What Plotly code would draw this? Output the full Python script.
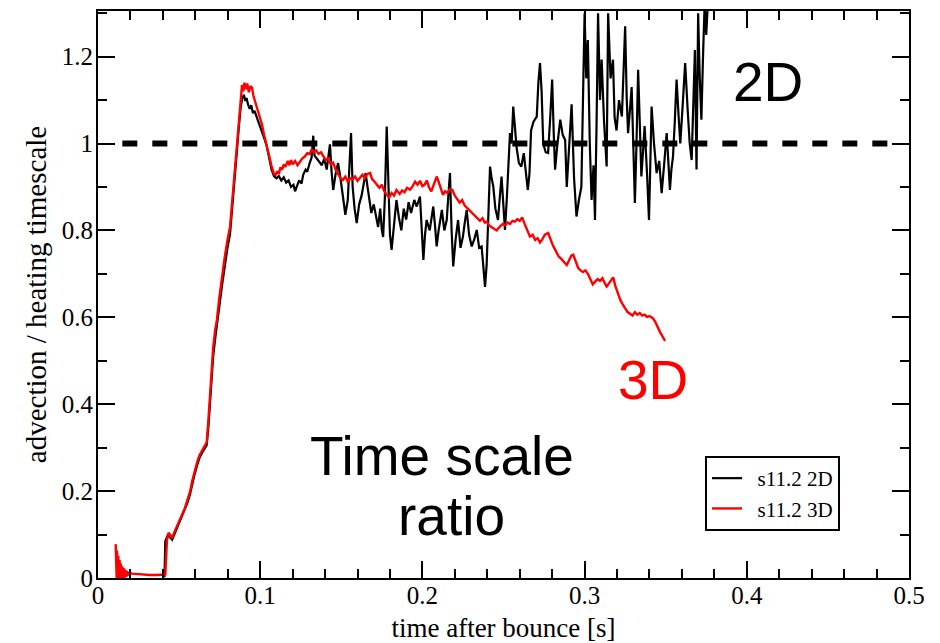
import plotly.graph_objects as go

# ---- data: advection / heating timescale ratio vs time after bounce ----
t_3d = [0.0109, 0.0111, 0.0113, 0.0115, 0.0117, 0.0119, 0.0121, 0.0123, 0.0125, 0.0127,
        0.0129, 0.0131, 0.0133, 0.0135, 0.0137, 0.0139, 0.0141, 0.0143, 0.0145, 0.0147,
        0.0149, 0.0151, 0.0153, 0.0155, 0.0157, 0.0159, 0.0161, 0.0164, 0.0167, 0.0170,
        0.0173, 0.0176, 0.0179, 0.0182, 0.0186, 0.0190, 0.0195,
        0.021, 0.024, 0.028, 0.032, 0.036,
        0.039, 0.0415, 0.0425, 0.0435, 0.0447, 0.0457, 0.0470, 0.0490, 0.0505, 0.0518,
        0.0535, 0.0550, 0.0567, 0.0580, 0.0595, 0.0610, 0.0625, 0.0640, 0.0655, 0.0670,
        0.0680, 0.0690, 0.0700, 0.0710, 0.0722, 0.0733, 0.0748, 0.0764, 0.0780, 0.0797,
        0.0814, 0.0828, 0.0843, 0.0857, 0.0870, 0.0880, 0.0888, 0.0896, 0.0903, 0.0912,
        0.0920, 0.0930, 0.0940, 0.0950, 0.0958, 0.0970, 0.0985, 0.1000, 0.1010, 0.1025,
        0.1040, 0.1055, 0.1070, 0.1085, 0.1095, 0.1105, 0.1115, 0.1125, 0.1135, 0.1145,
        0.1155, 0.1170, 0.1180, 0.1190, 0.1200, 0.1215, 0.1230, 0.1245, 0.1260, 0.1275,
        0.1290, 0.1305, 0.1317, 0.1330, 0.1345, 0.1360, 0.1375, 0.1390, 0.1405, 0.1420,
        0.1435, 0.1450, 0.1465, 0.1480, 0.1495, 0.1510, 0.1525, 0.1540, 0.1555, 0.1570,
        0.1585, 0.1600, 0.1615, 0.1630, 0.1645, 0.1660, 0.1677, 0.1690, 0.1705, 0.1720,
        0.1735, 0.1750, 0.1765, 0.1780, 0.1795, 0.1810, 0.1825, 0.1840, 0.1860, 0.1875,
        0.1890, 0.1905, 0.1924, 0.1940, 0.1955, 0.1970, 0.1985, 0.2000, 0.2015, 0.2027,
        0.2040, 0.2055, 0.2070, 0.2088, 0.2100, 0.2115, 0.2127, 0.2140, 0.2155, 0.2170,
        0.2185, 0.2200, 0.2215, 0.2230, 0.2245, 0.2260, 0.2275, 0.2290, 0.2310, 0.2325,
        0.2340, 0.2355, 0.2370, 0.2385, 0.2397, 0.2410, 0.2425, 0.2440, 0.2458, 0.2470,
        0.2480, 0.2495, 0.2510, 0.2525, 0.2540, 0.2555, 0.2570, 0.2585, 0.2600, 0.2615,
        0.2630, 0.2645, 0.2663, 0.2680, 0.2695, 0.2710, 0.2725, 0.2740, 0.2755, 0.2775,
        0.2790, 0.2805, 0.2815, 0.2828, 0.2840, 0.2855, 0.2870, 0.2890, 0.2905, 0.2918,
        0.2930, 0.2945, 0.2960, 0.2975, 0.2990, 0.3005, 0.3020, 0.3035, 0.3050, 0.3065,
        0.3080, 0.3095, 0.3110, 0.3125, 0.3136, 0.3150, 0.3165, 0.3176, 0.3190, 0.3206,
        0.3220, 0.3235, 0.3250, 0.3265, 0.3280, 0.3295, 0.3310, 0.3325, 0.3340, 0.3355,
        0.3370, 0.3385, 0.3400, 0.3420, 0.3435, 0.3450, 0.3465, 0.3480, 0.3490, 0.3496]
ratio_3d = [0.078, 0.000, 0.070, 0.000, 0.063, 0.000, 0.057, 0.000, 0.051, 0.000,
            0.046, 0.000, 0.041, 0.000, 0.037, 0.000, 0.033, 0.000, 0.030, 0.000,
            0.027, 0.000, 0.025, 0.000, 0.023, 0.000, 0.021, 0.001, 0.019, 0.002,
            0.017, 0.003, 0.016, 0.005, 0.014, 0.007, 0.012,
            0.010, 0.009, 0.008, 0.007, 0.007,
            0.008, 0.008, 0.087, 0.104, 0.098, 0.092, 0.105, 0.122, 0.135, 0.148,
            0.160, 0.178, 0.198, 0.222, 0.245, 0.265, 0.282, 0.292, 0.302, 0.312,
            0.360, 0.426, 0.480, 0.530, 0.570, 0.594, 0.645, 0.693, 0.735, 0.775,
            0.808, 0.870, 0.940, 1.000, 1.060, 1.108, 1.135, 1.120, 1.140, 1.125,
            1.138, 1.118, 1.132, 1.128, 1.110, 1.095, 1.078, 1.060, 1.045, 1.018,
            0.998, 0.972, 0.948, 0.930, 0.928, 0.936, 0.930, 0.945, 0.940, 0.952,
            0.946, 0.960, 0.950, 0.962, 0.952, 0.960, 0.950, 0.958, 0.966, 0.970,
            0.978, 0.976, 0.986, 0.980, 0.984, 0.976, 0.980, 0.970, 0.962, 0.966,
            0.952, 0.956, 0.940, 0.930, 0.920, 0.916, 0.924, 0.912, 0.920, 0.918,
            0.924, 0.914, 0.922, 0.928, 0.920, 0.930, 0.932, 0.918, 0.912, 0.904,
            0.898, 0.905, 0.890, 0.882, 0.876, 0.886, 0.880, 0.893, 0.884, 0.892,
            0.888, 0.898, 0.894, 0.902, 0.912, 0.905, 0.914, 0.902, 0.906, 0.915,
            0.900, 0.890, 0.905, 0.924, 0.912, 0.894, 0.882, 0.890, 0.886, 0.895,
            0.893, 0.880, 0.872, 0.864, 0.870, 0.858, 0.852, 0.846, 0.840, 0.834,
            0.826, 0.822, 0.828, 0.818, 0.820, 0.812, 0.808, 0.804, 0.800, 0.806,
            0.810, 0.815, 0.812, 0.818, 0.815, 0.822, 0.820, 0.826, 0.822, 0.830,
            0.815, 0.800, 0.786, 0.790, 0.778, 0.782, 0.772, 0.780, 0.790, 0.794,
            0.778, 0.765, 0.758, 0.748, 0.740, 0.735, 0.728, 0.720, 0.732, 0.742,
            0.744, 0.728, 0.714, 0.708, 0.704, 0.708, 0.700, 0.688, 0.676, 0.682,
            0.688, 0.684, 0.690, 0.678, 0.671, 0.678, 0.688, 0.692, 0.672, 0.656,
            0.640, 0.630, 0.622, 0.612, 0.608, 0.604, 0.612, 0.606, 0.610, 0.604,
            0.606, 0.601, 0.603, 0.598, 0.590, 0.576, 0.566, 0.556, 0.550, 0.546]

t_2d = [0.0400, 0.0410, 0.0415, 0.0430, 0.0445, 0.0457, 0.0470, 0.0490, 0.0505, 0.0518,
        0.0535, 0.0550, 0.0567, 0.0580, 0.0595, 0.0610, 0.0625, 0.0640, 0.0655, 0.0670,
        0.0680, 0.0690, 0.0700, 0.0710, 0.0722, 0.0733, 0.0748, 0.0764, 0.0780, 0.0797,
        0.0814, 0.0828, 0.0843, 0.0857, 0.0870, 0.0880, 0.0890, 0.0900, 0.0908, 0.0916,
        0.0925, 0.0935, 0.0945, 0.0955, 0.0965, 0.0980, 0.0995, 0.1010, 0.1025, 0.1040,
        0.1055, 0.1070, 0.1085, 0.1100, 0.1115, 0.1130, 0.1145, 0.1160, 0.1175, 0.1190,
        0.1205, 0.1215, 0.1225, 0.1240, 0.1255, 0.1265, 0.1280, 0.1290, 0.1305, 0.1317,
        0.1327, 0.1335, 0.1350, 0.1365, 0.1380, 0.1395, 0.1410, 0.1422, 0.1430, 0.1440,
        0.1450, 0.1465, 0.1480, 0.1495, 0.1510, 0.1525, 0.1540, 0.1550, 0.1560, 0.1570,
        0.1582, 0.1595, 0.1610, 0.1625, 0.1635, 0.1650, 0.1660, 0.1672, 0.1685, 0.1700,
        0.1715, 0.1727, 0.1740, 0.1750, 0.1758, 0.1768, 0.1780, 0.1790, 0.1800, 0.1810,
        0.1825, 0.1840, 0.1855, 0.1870, 0.1885, 0.1900, 0.1915, 0.1930, 0.1950, 0.1965,
        0.1985, 0.1995, 0.2006, 0.2016, 0.2026, 0.2045, 0.2067, 0.2078, 0.2088, 0.2100,
        0.2120, 0.2135, 0.2150, 0.2160, 0.2170, 0.2180, 0.2190, 0.2205, 0.2220, 0.2235,
        0.2250, 0.2262, 0.2273, 0.2288, 0.2304, 0.2320, 0.2335, 0.2350, 0.2365, 0.2375,
        0.2386, 0.2396, 0.2406, 0.2417, 0.2427, 0.2437, 0.2450, 0.2466, 0.2478, 0.2488,
        0.2499, 0.2509, 0.2520, 0.2528, 0.2540, 0.2550, 0.2560, 0.2570, 0.2580, 0.2595,
        0.2610, 0.2625, 0.2640, 0.2650, 0.2660, 0.2670, 0.2685, 0.2705, 0.2715, 0.2725,
        0.2735, 0.2745, 0.2760, 0.2775, 0.2788, 0.2800, 0.2810, 0.2818, 0.2830, 0.2850,
        0.2865, 0.2880, 0.2890, 0.2900, 0.2920, 0.2935, 0.2950, 0.2965, 0.2980, 0.2990,
        0.3000, 0.3010, 0.3020, 0.3032, 0.3043, 0.3055, 0.3064, 0.3074, 0.3083, 0.3095,
        0.3105, 0.3120, 0.3136, 0.3145, 0.3160, 0.3175, 0.3185, 0.3197, 0.3212, 0.3230,
        0.3240, 0.3250, 0.3260, 0.3268, 0.3280, 0.3290, 0.3300, 0.3310, 0.3320, 0.3330,
        0.3340, 0.3350, 0.3360, 0.3370, 0.3385, 0.3397, 0.3405, 0.3413, 0.3428, 0.3444,
        0.3460, 0.3475, 0.3490, 0.3506, 0.3516, 0.3526, 0.3535, 0.3545, 0.3556, 0.3567,
        0.3580, 0.3590, 0.3605, 0.3620, 0.3635, 0.3648, 0.3660, 0.3670, 0.3680, 0.3690,
        0.3700, 0.3710, 0.3720, 0.3730, 0.3740, 0.3750, 0.3760, 0.3770]
ratio_2d = [0.004, 0.004, 0.085, 0.098, 0.093, 0.088, 0.100, 0.118, 0.132, 0.143,
            0.155, 0.172, 0.192, 0.215, 0.238, 0.258, 0.276, 0.287, 0.296, 0.306,
            0.345, 0.405, 0.460, 0.510, 0.550, 0.578, 0.625, 0.672, 0.715, 0.757,
            0.792, 0.850, 0.920, 0.985, 1.045, 1.085, 1.105, 1.112, 1.098, 1.105,
            1.090, 1.080, 1.088, 1.070, 1.075, 1.060, 1.045, 1.030, 1.012, 0.995,
            0.965, 0.940, 0.925, 0.920, 0.925, 0.915, 0.922, 0.910, 0.915, 0.900,
            0.905, 0.890, 0.900, 0.915, 0.908, 0.928, 0.940, 0.935, 0.955, 0.968,
            1.018, 0.972, 0.965, 0.958, 0.950, 0.965, 0.940, 0.975, 0.998, 0.935,
            0.893, 0.930, 0.955, 0.920, 0.880, 0.836, 0.870, 0.950, 1.024, 0.900,
            0.850, 0.817, 0.860, 0.880, 0.900, 0.932, 0.905, 0.870, 0.840, 0.860,
            0.830, 0.808, 0.850, 0.800, 0.785, 0.870, 1.039, 0.900, 0.790, 0.755,
            0.820, 0.870, 0.830, 0.800, 0.850, 0.825, 0.865, 0.840, 0.870, 0.855,
            0.878, 0.800, 0.732, 0.790, 0.824, 0.800, 0.855, 0.810, 0.763, 0.800,
            0.847, 0.800, 0.824, 0.880, 0.932, 0.800, 0.717, 0.780, 0.824, 0.760,
            0.786, 0.820, 0.847, 0.790, 0.763, 0.780, 0.801, 0.760, 0.763, 0.720,
            0.670, 0.720, 0.850, 0.947, 0.920, 0.901, 0.850, 0.824, 0.880, 0.924,
            0.860, 0.801, 0.870, 0.924, 1.024, 1.000, 1.085, 1.040, 0.993, 0.955,
            0.947, 0.978, 0.930, 0.893, 0.930, 1.030, 1.050, 1.062, 1.140, 1.185,
            1.120, 1.000, 0.980, 0.978, 1.060, 1.147, 1.020, 0.940, 0.990, 1.055,
            1.020, 1.008, 0.900, 0.960, 1.090, 0.920, 0.832, 0.870, 0.900, 1.100,
            1.300, 1.150, 1.238, 1.000, 0.870, 0.950, 0.824, 1.050, 1.300, 1.100,
            1.193, 1.050, 0.947, 1.300, 1.150, 1.193, 1.060, 1.030, 1.100, 1.062,
            1.150, 1.270, 1.100, 1.024, 1.080, 1.130, 1.000, 0.863, 1.000, 1.170,
            1.050, 0.924, 0.980, 1.040, 0.930, 0.824, 0.950, 1.085, 1.000, 0.932,
            0.960, 0.886, 0.950, 1.024, 0.960, 0.893, 0.940, 0.970, 1.050, 1.147,
            1.060, 1.000, 1.090, 1.185, 1.080, 1.000, 0.962, 1.100, 1.215, 0.940,
            1.300, 1.150, 1.055, 1.200, 1.320, 1.250, 1.350, 1.400]

# unity reference level
ref_t = [0.015, 0.487]
ref_ratio = [1.0, 1.0]

X_RANGE = [0, 0.5]
Y_RANGE = [0, 1.305]

SERIF = "Liberation Serif, Times New Roman, serif"
SANS = "Liberation Sans, Arial, sans-serif"

# plot-area geometry in pixels (used to place free text)
W, H = 940, 643
L, R, T, B = 98, 909, 11, 578


def px(x):
    return (x - L) / (R - L)


def py(y):
    return (B - y) / (B - T)


fig = go.Figure()

# dashed unity line lives on the overlay axes that carry the tick labels
fig.add_trace(go.Scatter(x=ref_t, y=ref_ratio, mode="lines", showlegend=False,
                         xaxis="x2", yaxis="y2",
                         line=dict(color="black", width=6, dash="15px,15px"),
                         hoverinfo="skip"))
fig.add_trace(go.Scatter(x=t_2d, y=ratio_2d, mode="lines", name="  s11.2 2D",
                         line=dict(color="black", width=2.2)))
fig.add_trace(go.Scatter(x=t_3d, y=ratio_3d, mode="lines", name="  s11.2 3D",
                         line=dict(color="red", width=2.4)))

# frame axes: box outline with inside major/minor ticks on all four sides
frame = dict(showgrid=False, zeroline=False, showline=True, linecolor="black", linewidth=2,
             mirror="allticks", ticks="inside", ticklen=17, tickwidth=2, tickcolor="black",
             showticklabels=False, automargin=False)
# label axes: numbers and titles only
labels_ax = dict(showgrid=False, zeroline=False, showline=False, ticks="",
                 tickfont=dict(family=SERIF, size=25, color="black"), automargin=False)

fig.update_layout(
    xaxis=dict(range=X_RANGE, tickmode="linear", tick0=0, dtick=0.1,
               minor=dict(tick0=0, dtick=0.02, ticks="inside", ticklen=9, tickwidth=2,
                          tickcolor="black"),
               **frame),
    yaxis=dict(range=Y_RANGE, tickmode="linear", tick0=0, dtick=0.2,
               minor=dict(tick0=0, dtick=0.1, ticks="inside", ticklen=9, tickwidth=2,
                          tickcolor="black"),
               **frame),
    xaxis2=dict(range=X_RANGE, overlaying="x", anchor="y2", side="bottom",
                tickmode="linear", tick0=0, dtick=0.1,
                title=dict(text="time after bounce [s]",
                           font=dict(family=SERIF, size=27, color="black")),
                **labels_ax),
    yaxis2=dict(range=Y_RANGE, overlaying="y", anchor="x2", side="left",
                tickmode="linear", tick0=0, dtick=0.2, ticklabelstandoff=4,
                title=dict(text="advection / heating timescale",
                           font=dict(family=SERIF, size=29, color="black"), standoff=6),
                **labels_ax),
)

labels = [("2D", 768, 81.6, "black"), ("3D", 653, 379.6, "red"),
          ("Time scale", 442, 455.6, "black"), ("ratio", 451, 515.6, "black")]
for txt, lx, ly, col in labels:
    fig.add_annotation(text=txt, x=px(lx), y=py(ly), xref="paper", yref="paper",
                       xanchor="center", yanchor="middle", showarrow=False,
                       font=dict(family=SANS, size=55, color=col))

fig.update_layout(
    width=W, height=H,
    margin=dict(l=L, r=W - R, t=T, b=H - B),
    paper_bgcolor="white", plot_bgcolor="white",
    legend=dict(x=px(705), y=py(456), xanchor="left", yanchor="top",
                bgcolor="white", bordercolor="black", borderwidth=2,
                font=dict(family=SERIF, size=21, color="black"),
                tracegroupgap=0, itemwidth=30),
)

fig.write_html("out.html")
